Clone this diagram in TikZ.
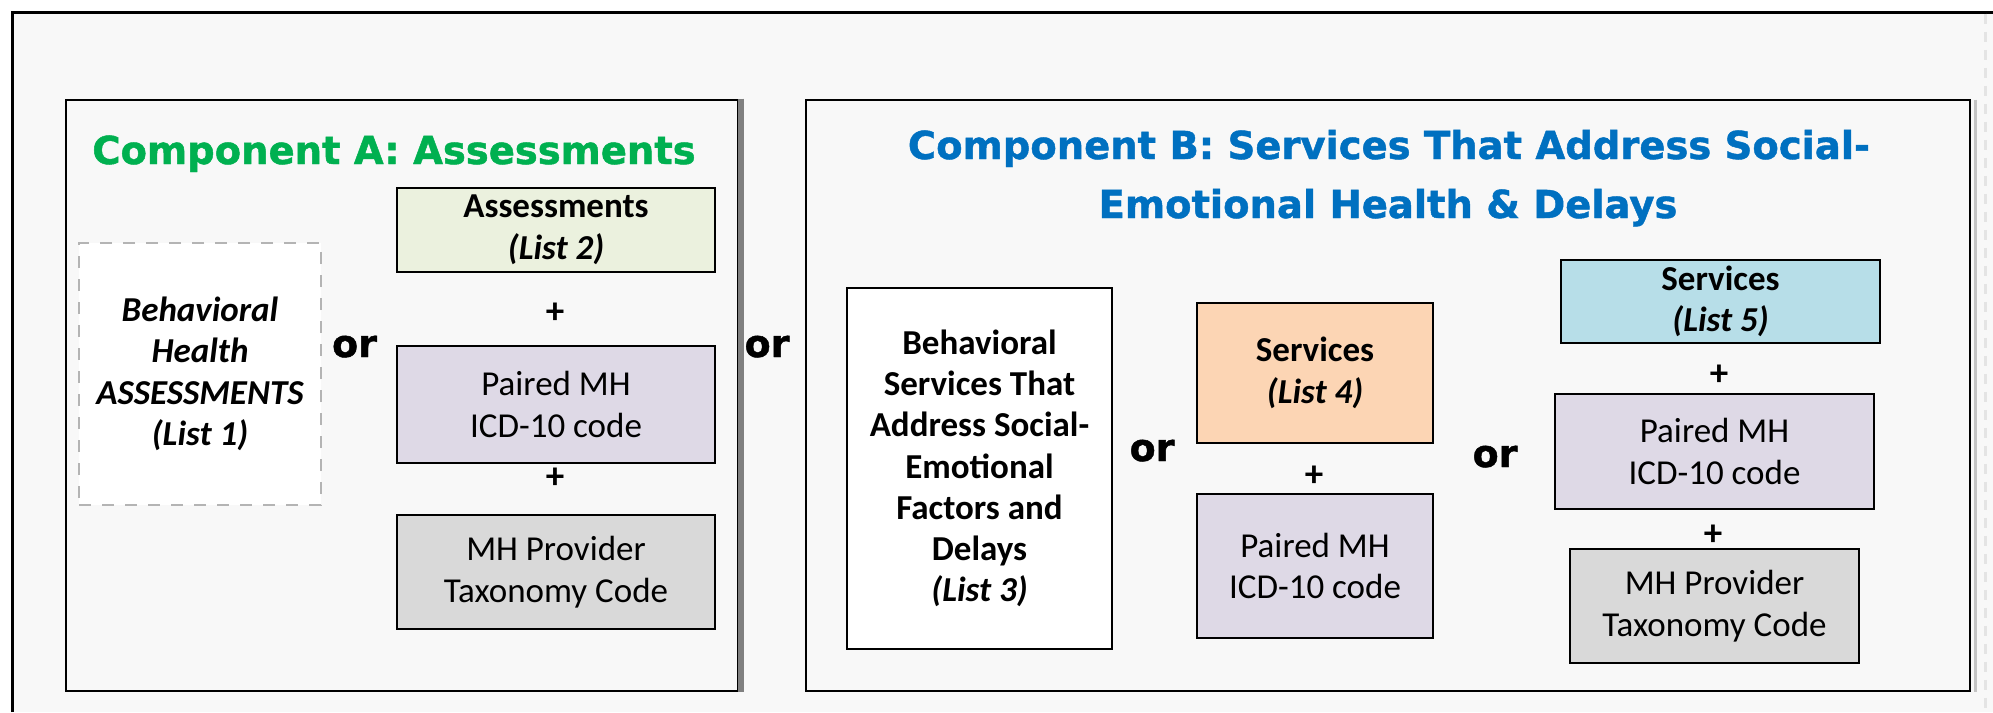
\documentclass[tikz,border=0pt]{standalone}
\usepackage{fontspec}
\setmainfont{Carlito}
\newfontfamily\vfont[FakeBold=1.2]{DejaVu Sans Bold}
\definecolor{bg}{HTML}{F8F8F8}
\definecolor{dashgrey}{HTML}{E4E4E4}
\definecolor{greenT}{HTML}{00B050}
\definecolor{blueT}{HTML}{0070C0}
\definecolor{cGreen}{HTML}{EBF1DE}
\definecolor{cLav}{HTML}{DED9E6}
\definecolor{cGrey}{HTML}{D9D9D9}
\definecolor{cPeach}{HTML}{FCD5B4}
\definecolor{cBlue}{HTML}{B7DEE8}
\definecolor{edgeA}{HTML}{808080}
\definecolor{edgeB}{HTML}{C4C4C4}
\definecolor{dashbox}{HTML}{B4B4B4}
\begin{document}
\begin{tikzpicture}[x=1pt,y=-1pt,
  box/.style={draw=black, line width=2.8pt, align=center, inner sep=0pt,
    font=\fontsize{35}{41.5}\selectfont},
  comp/.style={draw=black, line width=2.6pt, inner sep=0pt, fill=bg},
  titletxt/.style={font=\vfont\fontsize{38.5}{46}\selectfont, anchor=base, inner sep=0pt},
  orlbl/.style={font=\vfont\fontsize{38}{40}\selectfont, anchor=base, inner sep=0pt},
  plus/.style={font=\bfseries\fontsize{37}{40}\selectfont, inner sep=0pt}]
\useasboundingbox (0,0) rectangle (1993,712);
\fill[white] (0,0) rectangle (1993,712);
\fill[bg] (12,12) rectangle (1993,712);
\draw[line width=3pt] (12,712) -- (12,12) -- (1993,12);
\draw[line width=3pt, draw=dashgrey, dash pattern=on 10pt off 8pt] (1985,13.5) -- (1985,712);

% component frames
\node[comp, minimum width=672pt, minimum height=591pt] (compA) at (402,395.5) {};
\draw[line width=6pt, draw=edgeA] ([xshift=2pt]compA.north east) -- ([xshift=2pt]compA.south east);
\node[comp, minimum width=1164pt, minimum height=591pt] (compB) at (1388,395.5) {};
\draw[line width=3pt, draw=edgeB] ([xshift=4pt,yshift=-1pt]compB.north east) -- ([xshift=4pt]compB.south east);

% titles
\node[titletxt, text=greenT] (tA) at (394,164) {Component A: Assessments};
\node[titletxt, text=blueT] (tB1) at (1389,159) {Component B: Services That Address Social-};
\node[titletxt, text=blueT] (tB2) at (1388,218) {Emotional Health \& Delays};

% component A
\node[box, draw=dashbox, line width=2pt, dash pattern=on 12pt off 11pt, fill=white,
  minimum width=242pt, minimum height=262pt, font=\bfseries\itshape\fontsize{35}{41.5}\selectfont]
  (l1) at (200,374) {Behavioral\\Health\\ASSESSMENTS\\(List 1)};
\node[orlbl] (orA) at (354.5,357) {or};
\node[box, fill=cGreen, minimum width=318pt, minimum height=84pt] (l2) at (556,230)
  {\bfseries Assessments\\\bfseries\itshape (List 2)};
\node[plus] (pA1) at (555,313) {+};
\node[box, fill=cLav, minimum width=318pt, minimum height=117pt] (pmA) at (556,404.5)
  {Paired MH\\ICD-10 code};
\node[plus] (pA2) at (555,478) {+};
\node[box, fill=cGrey, minimum width=318pt, minimum height=114pt] (mhA) at (556,572)
  {MH Provider\\Taxonomy Code};

% or between
\node[orlbl] (orAB) at (767,357) {or};

% component B
\node[box, fill=white, minimum width=265pt, minimum height=361pt,
  font=\bfseries\fontsize{35}{41.2}\selectfont] (l3) at (979.5,468.5)
  {Behavioral\\Services That\\Address Social-\\Emotional\\Factors and\\Delays\\\itshape (List 3)};
\node[orlbl] (orB1) at (1152,461) {or};
\node[box, fill=cPeach, minimum width=236pt, minimum height=140pt] (l4) at (1315,373)
  {\bfseries Services\\\bfseries\itshape (List 4)};
\node[plus] (pB1) at (1314,476) {+};
\node[box, fill=cLav, minimum width=236pt, minimum height=144pt] (pmB) at (1315,566)
  {Paired MH\\ICD-10 code};
\node[orlbl] (orB2) at (1495,467) {or};
\node[box, fill=cBlue, minimum width=319pt, minimum height=83pt] (l5) at (1720.5,301.5)
  {\bfseries Services\\\bfseries\itshape (List 5)};
\node[plus] (pC1) at (1719,375) {+};
\node[box, fill=cLav, minimum width=319pt, minimum height=115pt] (pmC) at (1714.5,451.5)
  {Paired MH\\ICD-10 code};
\node[plus] (pC2) at (1713,535) {+};
\node[box, fill=cGrey, minimum width=289pt, minimum height=114pt] (mhC) at (1714.5,606)
  {MH Provider\\Taxonomy Code};
\end{tikzpicture}
\end{document}
